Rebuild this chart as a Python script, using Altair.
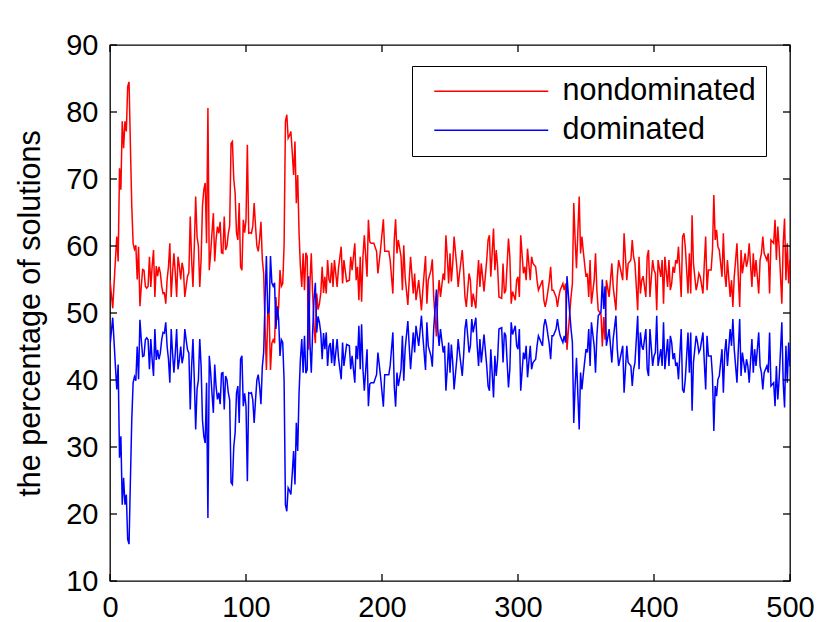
import altair as alt
import pandas as pd

x = [0, 2, 4, 5, 6, 7, 8, 9, 10, 11,
     12, 13, 14, 15, 16, 17, 18, 19, 20, 21,
     22, 23, 24, 25, 26, 27, 28, 29, 30, 31,
     32, 33, 34, 35, 36, 37, 38, 39, 40, 41,
     42, 43, 44, 45, 46, 47, 48, 49, 50, 51,
     52, 53, 54, 55, 56, 57, 58, 59, 60, 61,
     62, 63, 64, 65, 66, 67, 68, 69, 70, 71,
     72, 73, 74, 75, 76, 77, 78, 79, 80, 81,
     82, 83, 84, 85, 86, 87, 88, 89, 90, 91,
     92, 93, 94, 95, 96, 97, 98, 99, 100, 101,
     102, 103, 104, 105, 106, 107, 108, 109, 110, 111,
     112, 113, 114, 115, 116, 117, 118, 119, 120, 121,
     122, 123, 124, 125, 126, 127, 128, 129, 130, 131,
     132, 133, 134, 135, 136, 137, 138, 139, 140, 141,
     142, 143, 144, 145, 146, 147, 148, 149, 150, 151,
     152, 153, 154, 155, 156, 157, 158, 159, 160, 161,
     162, 163, 164, 165, 167, 168, 170, 171, 172, 174,
     176, 177, 178, 180, 181, 182, 183, 184, 185, 186,
     187, 189, 190, 191, 192, 194, 196, 197, 199, 201,
     202, 205, 206, 208, 209, 210, 211, 212, 214, 215,
     216, 217, 219, 220, 221, 223, 224, 225, 227, 229,
     230, 232, 233, 234, 236, 237, 238, 240, 241, 242,
     243, 245, 246, 247, 248, 249, 250, 251, 252, 253,
     255, 256, 257, 259, 260, 261, 262, 264, 265, 266,
     267, 269, 270, 271, 272, 273, 274, 275, 277, 278,
     279, 280, 282, 283, 284, 285, 286, 288, 289, 290,
     291, 293, 294, 295, 296, 298, 299, 300, 301, 302,
     304, 305, 306, 307, 309, 310, 311, 313, 314, 315,
     316, 318, 319, 320, 321, 323, 324, 325, 326, 328,
     329, 330, 331, 333, 334, 335, 336, 338, 339, 340,
     341, 342, 343, 345, 346, 347, 348, 350, 351, 352,
     353, 354, 356, 357, 358, 359, 361, 362, 363, 364,
     365, 367, 368, 369, 370, 372, 373, 374, 375, 377,
     378, 379, 380, 381, 383, 384, 385, 386, 388, 389,
     390, 391, 392, 394, 395, 396, 397, 399, 400, 401,
     402, 403, 405, 406, 407, 408, 410, 411, 412, 413,
     414, 415, 416, 417, 418, 420, 421, 422, 423, 425,
     426, 427, 428, 429, 431, 432, 433, 434, 436, 437,
     438, 439, 440, 442, 443, 444, 445, 446, 447, 448,
     450, 451, 452, 453, 454, 456, 457, 458, 459, 461,
     462, 463, 464, 465, 467, 468, 469, 470, 472, 473,
     474, 475, 477, 478, 479, 480, 481, 483, 484, 485,
     486, 488, 489, 490, 491, 492, 494, 495, 496, 497,
     498, 499, 500]

nondominated = [
    54.9, 50.7, 58.0, 61.4, 57.7, 71.6, 68.4, 78.6, 74.6, 78.6,
    77.1, 83.8, 84.5, 75.0, 66.0, 60.4, 59.5, 60.1, 55.0, 59.9,
    51.0, 54.0, 56.5, 56.4, 54.0, 53.7, 54.0, 58.4, 53.9, 57.0,
    59.4, 52.4, 57.0, 55.5, 56.9, 56.0, 54.0, 52.9, 53.0, 51.4,
    55.0, 56.9, 60.4, 52.4, 56.0, 58.9, 56.0, 52.4, 58.4, 57.0,
    55.0, 57.5, 56.4, 52.4, 54.0, 55.5, 56.0, 64.4, 58.0, 53.9,
    60.0, 67.4, 61.4, 60.0, 53.9, 58.0, 66.0, 68.4, 69.4, 60.4,
    80.6, 56.4, 58.9, 62.0, 64.9, 57.7, 61.0, 62.9, 61.9, 63.6,
    59.0, 58.9, 64.4, 59.4, 60.0, 61.9, 63.0, 75.3, 75.6, 70.0,
    67.9, 62.0, 60.9, 66.4, 56.9, 56.4, 63.9, 62.0, 63.9, 75.1,
    61.9, 62.0, 61.9, 63.0, 66.4, 63.0, 60.0, 59.2, 61.0, 63.6,
    58.0, 55.9, 48.0, 41.5, 50.0, 49.9, 41.5, 45.5, 46.0, 45.5,
    52.4, 49.0, 50.9, 56.4, 54.0, 54.4, 60.0, 78.6, 79.6, 76.1,
    76.5, 77.1, 74.0, 70.6, 75.6, 66.4, 70.6, 62.0, 56.9, 53.9,
    58.9, 53.4, 59.0, 58.4, 44.5, 54.4, 58.9, 52.9, 48.0, 45.5,
    52.9, 50.5, 51.4, 53.0, 56.9, 53.0, 55.4, 52.9, 57.9, 55.0,
    54.5, 57.5, 53.9, 57.9, 53.9, 56.7, 59.9, 54.4, 57.9, 54.7,
    54.9, 58.4, 56.4, 60.4, 54.9, 56.9, 51.9, 58.4, 51.7, 58.4,
    61.6, 55.4, 63.9, 60.6, 60.4, 60.4, 59.2, 55.9, 59.6, 64.0,
    59.2, 59.2, 57.9, 52.9, 60.9, 64.0, 58.9, 60.9, 58.4, 53.4,
    60.1, 55.4, 51.2, 54.9, 58.4, 52.9, 55.9, 51.9, 54.9, 50.4,
    53.4, 58.5, 51.4, 54.9, 56.4, 58.0, 52.4, 46.5, 52.4, 54.9,
    52.4, 55.9, 54.9, 61.6, 58.4, 54.4, 58.9, 54.7, 57.4, 61.4,
    56.9, 53.9, 55.9, 59.4, 56.4, 52.4, 50.9, 55.9, 54.9, 50.9,
    52.9, 50.7, 54.9, 57.9, 53.9, 57.4, 55.4, 53.2, 57.9, 60.9,
    61.6, 55.4, 62.6, 56.4, 59.4, 56.9, 52.4, 52.2, 57.4, 52.9,
    53.4, 61.1, 58.4, 51.4, 53.2, 51.9, 54.9, 55.4, 52.4, 61.6,
    55.9, 56.9, 54.9, 59.6, 54.9, 58.4, 57.4, 56.9, 54.9, 53.4,
    53.9, 54.9, 51.9, 50.9, 51.9, 54.7, 56.9, 53.4, 53.4, 52.4,
    50.9, 52.4, 53.4, 54.4, 53.4, 54.4, 44.5, 49.9, 52.4, 54.4,
    66.4, 60.9, 56.7, 67.4, 58.9, 61.4, 59.2, 55.4, 55.9, 52.4,
    57.9, 51.4, 54.9, 58.9, 53.4, 50.4, 49.9, 45.0, 49.4, 46.0,
    54.9, 52.4, 54.9, 57.4, 53.9, 50.4, 55.4, 57.9, 56.9, 54.9,
    61.9, 58.4, 54.9, 57.4, 57.9, 60.9, 58.4, 57.4, 50.4, 58.4,
    52.9, 54.9, 55.5, 52.4, 58.4, 59.4, 52.4, 57.9, 56.4, 55.9,
    50.4, 57.9, 55.4, 57.9, 51.4, 58.4, 53.9, 57.9, 53.4, 54.4,
    56.9, 56.0, 57.9, 57.4, 59.9, 52.4, 61.4, 61.9, 59.9, 52.9,
    58.9, 52.9, 64.6, 57.4, 53.4, 54.4, 55.9, 55.4, 52.9, 57.4,
    61.4, 53.4, 56.4, 56.4, 59.4, 67.6, 60.9, 62.4, 59.9, 59.4,
    55.4, 61.9, 55.9, 53.9, 57.9, 52.4, 54.9, 50.9, 55.4, 60.4,
    55.4, 50.9, 59.4, 55.9, 58.9, 56.9, 57.9, 60.4, 53.9, 58.9,
    55.4, 57.9, 52.9, 57.9, 58.9, 61.4, 58.9, 57.9, 58.9, 52.9,
    60.9, 60.4, 63.9, 57.9, 62.9, 59.9, 51.4, 60.4, 64.1, 54.9,
    60.4, 54.4, 58.0]

dominated = [
    45.1, 49.3, 42.0, 38.6, 42.3, 28.4, 31.6, 21.4, 25.4, 21.4,
    22.9, 16.2, 15.5, 25.0, 34.0, 39.6, 40.5, 39.9, 45.0, 40.1,
    49.0, 46.0, 43.5, 43.6, 46.0, 46.3, 46.0, 41.6, 46.1, 43.0,
    40.6, 47.6, 43.0, 44.5, 43.1, 44.0, 46.0, 47.1, 47.0, 48.6,
    45.0, 43.1, 39.6, 47.6, 44.0, 41.1, 44.0, 47.6, 41.6, 43.0,
    45.0, 42.5, 43.6, 47.6, 46.0, 44.5, 44.0, 35.6, 42.0, 46.1,
    40.0, 32.6, 38.6, 40.0, 46.1, 42.0, 34.0, 31.6, 30.6, 39.6,
    19.4, 43.6, 41.1, 38.0, 35.1, 42.3, 39.0, 37.1, 38.1, 36.4,
    41.0, 41.1, 35.6, 40.6, 40.0, 38.1, 37.0, 24.7, 24.4, 30.0,
    32.1, 38.0, 39.1, 33.6, 43.1, 43.6, 36.1, 38.0, 36.1, 24.9,
    38.1, 38.0, 38.1, 37.0, 33.6, 37.0, 40.0, 40.8, 39.0, 36.4,
    42.0, 44.1, 52.0, 58.5, 50.0, 50.1, 58.5, 54.5, 54.0, 54.5,
    47.6, 51.0, 49.1, 43.6, 46.0, 45.6, 40.0, 21.4, 20.4, 23.9,
    23.5, 22.9, 26.0, 29.4, 24.4, 33.6, 29.4, 38.0, 43.1, 46.1,
    41.1, 46.6, 41.0, 41.6, 55.5, 45.6, 41.1, 47.1, 52.0, 54.5,
    47.1, 49.5, 48.6, 47.0, 43.1, 47.0, 44.6, 47.1, 42.1, 45.0,
    45.5, 42.5, 46.1, 42.1, 46.1, 43.3, 40.1, 45.6, 42.1, 45.3,
    45.1, 41.6, 43.6, 39.6, 45.1, 43.1, 48.1, 41.6, 48.3, 41.6,
    38.4, 44.6, 36.1, 39.4, 39.6, 39.6, 40.8, 44.1, 40.4, 36.0,
    40.8, 40.8, 42.1, 47.1, 39.1, 36.0, 41.1, 39.1, 41.6, 46.6,
    39.9, 44.6, 48.8, 45.1, 41.6, 47.1, 44.1, 48.1, 45.1, 49.6,
    46.6, 41.5, 48.6, 45.1, 43.6, 42.0, 47.6, 53.5, 47.6, 45.1,
    47.6, 44.1, 45.1, 38.4, 41.6, 45.6, 41.1, 45.3, 42.6, 38.6,
    43.1, 46.1, 44.1, 40.6, 43.6, 47.6, 49.1, 44.1, 45.1, 49.1,
    47.1, 49.3, 45.1, 42.1, 46.1, 42.6, 44.6, 46.8, 42.1, 39.1,
    38.4, 44.6, 37.4, 43.6, 40.6, 43.1, 47.6, 47.8, 42.6, 47.1,
    46.6, 38.9, 41.6, 48.6, 46.8, 48.1, 45.1, 44.6, 47.6, 38.4,
    44.1, 43.1, 45.1, 40.4, 45.1, 41.6, 42.6, 43.1, 45.1, 46.6,
    46.1, 45.1, 48.1, 49.1, 48.1, 45.3, 43.1, 46.6, 46.6, 47.6,
    49.1, 47.6, 46.6, 45.6, 46.6, 45.6, 55.5, 50.1, 47.6, 45.6,
    33.6, 39.1, 43.3, 32.6, 41.1, 38.6, 40.8, 44.6, 44.1, 47.6,
    42.1, 48.6, 45.1, 41.1, 46.6, 49.6, 50.1, 55.0, 50.6, 54.0,
    45.1, 47.6, 45.1, 42.6, 46.1, 49.6, 44.6, 42.1, 43.1, 45.1,
    38.1, 41.6, 45.1, 42.6, 42.1, 39.1, 41.6, 42.6, 49.6, 41.6,
    47.1, 45.1, 44.5, 47.6, 41.6, 40.6, 47.6, 42.1, 43.6, 44.1,
    49.6, 42.1, 44.6, 42.1, 48.6, 41.6, 46.1, 42.1, 46.6, 45.6,
    43.1, 44.0, 42.1, 42.6, 40.1, 47.6, 38.6, 38.1, 40.1, 47.1,
    41.1, 47.1, 35.4, 42.6, 46.6, 45.6, 44.1, 44.6, 47.1, 42.6,
    38.6, 46.6, 43.6, 43.6, 40.6, 32.4, 39.1, 37.6, 40.1, 40.6,
    44.6, 38.1, 44.1, 46.1, 42.1, 47.6, 45.1, 49.1, 44.6, 39.6,
    44.6, 49.1, 40.6, 44.1, 41.1, 43.1, 42.1, 39.6, 46.1, 41.1,
    44.6, 42.1, 47.1, 42.1, 41.1, 38.6, 41.1, 42.1, 41.1, 47.1,
    39.1, 39.6, 36.1, 42.1, 37.1, 40.1, 48.6, 39.6, 35.9, 45.1,
    39.6, 45.6, 42.0]

series_names = ["nondominated", "dominated"]
series_colors = ["#ff0000", "#0000ff"]
x_ticks = [0, 100, 200, 300, 400, 500]
y_ticks = [10, 20, 30, 40, 50, 60, 70, 80, 90]

df = pd.DataFrame({"x": x, "nondominated": nondominated, "dominated": dominated})
long = df.melt(id_vars="x", var_name="series", value_name="value")
xt = pd.DataFrame({"x": x_ticks})
yt = pd.DataFrame({"value": y_ticks})

W, H = 680, 536
TK = 7
FONT = "Liberation Sans"

xs = alt.Scale(domain=[0, 500], nice=False, zero=False)
ys = alt.Scale(domain=[10, 90], nice=False, zero=False)

x_axis = alt.Axis(
    orient="bottom", values=x_ticks, format="d", ticks=False, tickSize=0,
    domain=False, grid=False, title=None, labelFont=FONT, labelFontSize=29,
    labelColor="black", labelPadding=12, labelFlush=False)
y_axis = alt.Axis(
    orient="left", values=y_ticks, format="d", ticks=False, tickSize=0,
    domain=False, grid=False, title="the percentage of solutions",
    titleFont=FONT, titleFontSize=30.5, titleFontWeight="normal",
    titleColor="black", titlePadding=20, labelFont=FONT, labelFontSize=29,
    labelColor="black", labelPadding=12, labelFlush=False)

X = alt.X("x:Q", scale=xs, axis=x_axis)
Y = alt.Y("value:Q", scale=ys, axis=y_axis)

main = alt.Chart(long).mark_line(strokeWidth=1.5, clip=True).encode(
    x=X, y=Y,
    color=alt.Color("series:N", sort=series_names,
                    scale=alt.Scale(domain=series_names, range=series_colors),
                    legend=alt.Legend(
                        title=None, orient="none", legendX=302, legendY=21,
                        direction="vertical", symbolType="M-5.7,0L5.7,0",
                        symbolSize=400, symbolStrokeWidth=1.5,
                        symbolOffset=54,
                        labelFont=FONT, labelFontSize=30.5, labelColor="black",
                        labelLimit=400, labelOffset=56, padding=10,
                        rowPadding=8, strokeColor="black", fillColor="white")),
)

rule_style = dict(color="black", strokeWidth=1.3)
tick_bottom = alt.Chart(xt).mark_rule(**rule_style).encode(
    x=X, y=alt.value(H), y2=alt.value(H - TK))
tick_top = alt.Chart(xt).mark_rule(**rule_style).encode(
    x=X, y=alt.value(0), y2=alt.value(TK))
tick_left = alt.Chart(yt).mark_rule(**rule_style).encode(
    y=Y, x=alt.value(0), x2=alt.value(TK))
tick_right = alt.Chart(yt).mark_rule(**rule_style).encode(
    y=Y, x=alt.value(W), x2=alt.value(W - TK))

chart = alt.layer(main, tick_bottom, tick_top, tick_left, tick_right).properties(
    width=W, height=H,
    padding={"left": 102, "top": 37, "right": 24, "bottom": 40},
    autosize=alt.AutoSizeParams(type="none"),
    background="white",
).configure_view(stroke="black", strokeWidth=1.3)

chart.save("out.html", embed_options={"renderer": "svg", "actions": False})
